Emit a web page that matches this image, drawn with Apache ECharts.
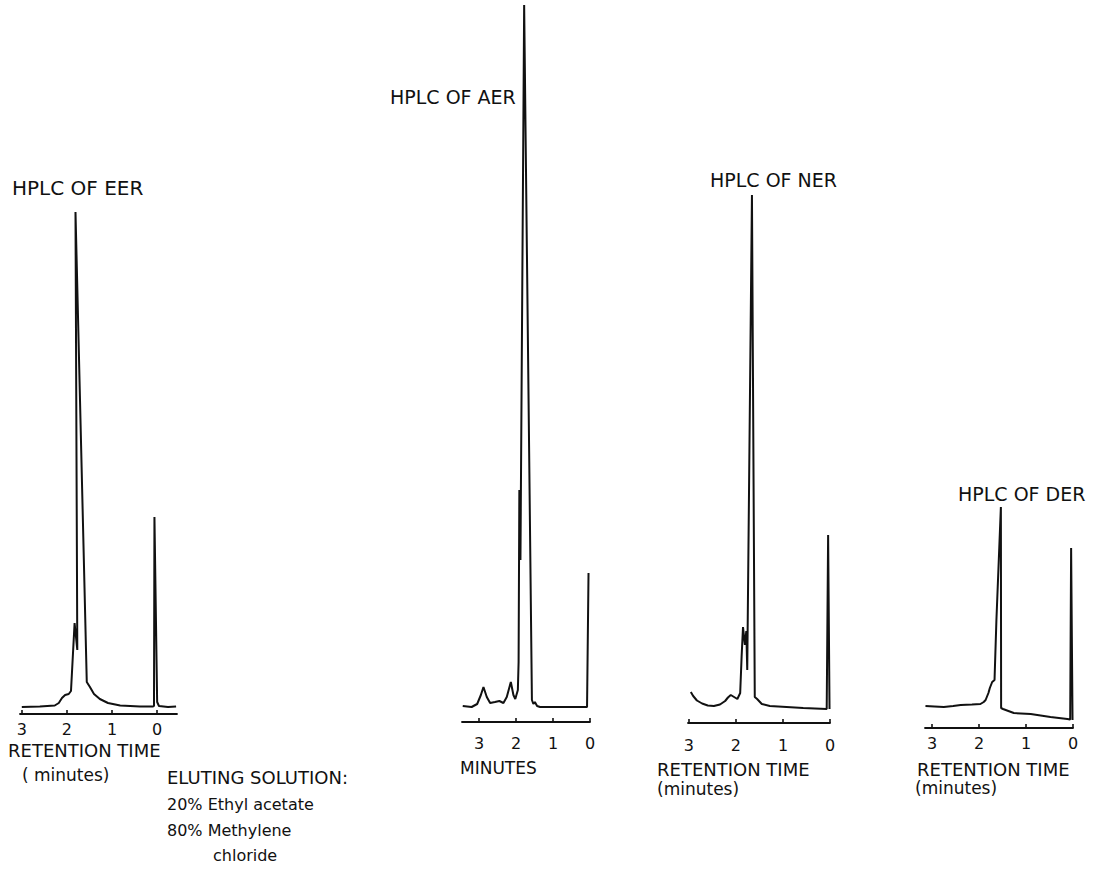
<!DOCTYPE html>
<html><head><meta charset="utf-8">
<script src="https://cdn.jsdelivr.net/npm/echarts@6/dist/echarts.min.js"></script>
<style>html,body{margin:0;padding:0;background:#fff}#c{width:1107px;height:877px}</style>
</head><body><div id="c"></div>
<script>
// Tick labels (retention time, minutes)
const tickValues = [0, 1, 2, 3];

// HPLC of EER: retention time (min) and detector response (relative units)
const eerTime   = [3.0, 2.6, 2.27, 2.18, 2.11, 2.04, 1.96, 1.91, 1.83, 1.77, 1.81, 1.56, 1.49, 1.40, 1.27, 1.09, 0.82, 0.38, 0.09, 0.07, 0.06, 0.0, -0.04, -0.24, -0.42];
const eerSignal = [7, 7.5, 8.5, 11, 16, 19, 20, 23, 91, 64, 502, 32, 27, 20, 15, 11, 8.5, 7.5, 7.5, 8, 197, 12, 8, 7, 7.5];

// HPLC of AER
const aerTime   = [3.44, 3.2, 3.05, 2.95, 2.88, 2.79, 2.7, 2.57, 2.45, 2.34, 2.25, 2.14, 2.07, 2.02, 1.95, 1.93, 1.91, 1.88, 1.78, 1.57, 1.53, 1.49, 1.43, 1.35, 0.81, 0.08, 0.04];
const aerSignal = [16, 15, 18, 27, 35, 25, 19, 20, 21, 19, 25, 40, 27, 23, 32, 60, 232, 162, 717, 22, 18, 20, 16, 15, 15, 15, 149];

// HPLC of NER
const nerTime   = [2.96, 2.91, 2.83, 2.72, 2.60, 2.47, 2.34, 2.23, 2.17, 2.11, 2.04, 1.97, 1.91, 1.88, 1.85, 1.81, 1.78, 1.76, 1.66, 1.60, 1.55, 1.45, 1.28, 0.57, 0.07, 0.04, 0.01];
const nerSignal = [31, 27, 22.5, 19.5, 17.5, 17, 18.5, 22, 25.5, 28, 26, 24, 30, 66, 96, 78, 92, 53, 528, 26, 24, 19, 17, 15, 14, 188, 14];

// HPLC of DER
const derTime   = [3.14, 2.95, 2.75, 2.55, 2.39, 2.15, 1.97, 1.90, 1.86, 1.80, 1.77, 1.72, 1.67, 1.63, 1.535, 1.53, 1.49, 1.26, 0.90, 0.48, 0.12, 0.06, 0.04, 0.01];
const derSignal = [22, 21.5, 21, 22, 23, 23.5, 24, 26, 28, 35, 40, 46, 48, 108, 221, 20, 19, 15, 14, 11, 9, 8.5, 180, 8];

const panelTitles = ['HPLC OF EER', 'HPLC OF AER', 'HPLC OF NER', 'HPLC OF DER'];
const axisTitles = ['RETENTION TIME', 'MINUTES', 'RETENTION TIME', 'RETENTION TIME'];
const axisSubtitles = ['( minutes)', '', '(minutes)', '(minutes)'];
const solutionNotes = ['ELUTING SOLUTION:', '20% Ethyl acetate', '80% Methylene', 'chloride'];

const zip = (a, b) => a.map((v, i) => [v, b[i]]);
const traces = [zip(eerTime, eerSignal), zip(aerTime, aerSignal), zip(nerTime, nerSignal), zip(derTime, derSignal)];

const FONT = 'DejaVu Sans';
const INK = '#111';

// layout per panel
const layout = [
  {grid: {left: 20, right: 930, top: 194, bottom: 163}, xmin: -0.44, xmax: 3.04, ymax: 520, margin: 7},
  {grid: {left: 462, right: 517, top: 2, bottom: 155}, xmin: 0, xmax: 3.46, ymax: 720, margin: 13},
  {grid: {left: 688, right: 277, top: 183, bottom: 154}, xmin: 0, xmax: 3.02, ymax: 540, margin: 14},
  {grid: {left: 925, right: 34, top: 488, bottom: 149}, xmin: 0, xmax: 3.15, ymax: 240, margin: 7}
];

const grids = layout.map(l => Object.assign({containLabel: false}, l.grid));
const xAxes = layout.map((l, i) => ({
  type: 'value', gridIndex: i, min: l.xmin, max: l.xmax, inverse: true,
  axisLine: {show: true, lineStyle: {color: INK, width: 1.8}},
  axisTick: {show: true, inside: true, length: 4, customValues: tickValues, lineStyle: {color: INK, width: 1.6}},
  axisLabel: {show: true, customValues: tickValues, margin: l.margin, fontSize: 16, color: INK, fontFamily: FONT},
  splitLine: {show: false}
}));
const yAxes = layout.map((l, i) => ({type: 'value', gridIndex: i, min: 0, max: l.ymax, show: false}));
const series = traces.map((d, i) => ({
  type: 'line', xAxisIndex: i, yAxisIndex: i, data: d, symbol: 'none', smooth: false,
  clip: false, lineStyle: {color: INK, width: 2}, animation: false
}));

function txt(s, x, y, size) {
  return {type: 'text', x: x, y: y, style: {text: s, fill: INK, font: size + 'px "' + FONT + '"', textAlign: 'left', textVerticalAlign: 'middle', verticalAlign: 'middle'}};
}

const graphics = [
  txt(panelTitles[0], 12, 188, 20),
  txt(panelTitles[1], 390, 97, 19),
  txt(panelTitles[2], 710, 180, 19),
  txt(panelTitles[3], 958, 494, 19),
  txt(axisTitles[0], 8, 750, 18),
  txt(axisSubtitles[0], 22, 775, 17),
  txt(axisTitles[1], 460, 768, 17),
  txt(axisTitles[2], 657, 769, 18),
  txt(axisSubtitles[2], 657, 789, 17),
  txt(axisTitles[3], 917, 769, 18),
  txt(axisSubtitles[3], 915, 788, 17),
  txt(solutionNotes[0], 167, 777, 18),
  txt(solutionNotes[1], 167, 804, 16),
  txt(solutionNotes[2], 167, 830, 16),
  txt(solutionNotes[3], 213, 855, 16)
];

const chart = echarts.init(document.getElementById('c'), null, {renderer: 'svg'});
chart.setOption({
  animation: false,
  backgroundColor: '#fff',
  grid: grids,
  xAxis: xAxes,
  yAxis: yAxes,
  series: series,
  graphic: graphics
});
</script></body></html>
